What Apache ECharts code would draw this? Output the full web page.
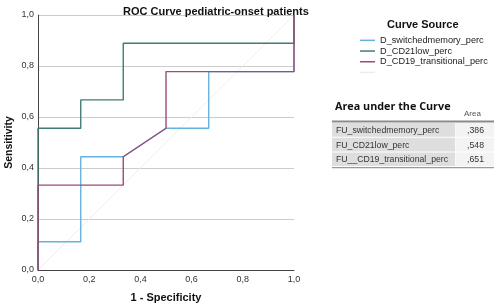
<!DOCTYPE html>
<html>
<head>
<meta charset="utf-8">
<script src="https://cdn.jsdelivr.net/npm/echarts@6/dist/echarts.min.js"></script>
<style>
  html, body { margin: 0; padding: 0; background: #fff; }
  #roc { width: 500px; height: 307px; }
</style>
</head>
<body>
<div id="roc"></div>
<script>
// curve points [1 - specificity, sensitivity]
var switchedMemory = [[0, 0], [0, 0.111], [0.167, 0.111], [0.167, 0.444], [0.333, 0.444], [0.5, 0.556], [0.667, 0.556], [0.667, 0.778], [1, 0.778], [1, 1]];
var cd21Low = [[0, 0], [0, 0.556], [0.167, 0.556], [0.167, 0.667], [0.333, 0.667], [0.333, 0.889], [1, 0.889], [1, 1]];
var cd19Transitional = [[0, 0], [0, 0.333], [0.333, 0.333], [0.333, 0.444], [0.5, 0.556], [0.5, 0.778], [1, 0.778], [1, 1]];
var refLine = [[0, 0], [1, 1]];

var curveNames = ['D_switchedmemory_perc', 'D_CD21low_perc', 'D_CD19_transitional_perc'];
var aucNames = ['FU_switchedmemory_perc', 'FU_CD21low_perc', 'FU__CD19_transitional_perc'];
var aucValues = [',386', ',548', ',651'];

var myChart = echarts.init(document.getElementById('roc'));

// table "Area under the Curve"
var tableGraphic = [
  { type: 'text', left: 335, top: 101, style: { text: 'Area under the Curve', font: 'bold 10.8px "Open Sans", sans-serif', fill: '#111' } },
  { type: 'text', left: 464, top: 110, style: { text: 'Area', font: '8px "Liberation Sans", Arial', fill: '#555' } },
  { type: 'rect', shape: { x: 332, y: 120.5, width: 162, height: 2 }, style: { fill: '#8a8a8a' } }
];
aucNames.forEach(function (n, i) {
  var y = 122.5 + i * 14.7;
  tableGraphic.push({ type: 'rect', shape: { x: 332, y: y + 0.5, width: 123, height: 13.7 }, style: { fill: '#dedede' } });
  tableGraphic.push({ type: 'rect', shape: { x: 455.5, y: y + 0.5, width: 38.5, height: 13.7 }, style: { fill: '#f3f3f3' } });
  tableGraphic.push({ type: 'text', left: 336, top: y + 3.5, style: { text: n, font: '8.7px "Liberation Sans", Arial', fill: '#333' } });
  tableGraphic.push({ type: 'text', right: 16, top: y + 3.5, style: { text: aucValues[i], font: '8.7px "Liberation Sans", Arial', fill: '#333' } });
});
tableGraphic.push({ type: 'rect', shape: { x: 332, y: 167, width: 162, height: 1.2 }, style: { fill: '#9a9a9a' } });

var option = {
  animation: false,
  textStyle: { fontFamily: '"Liberation Sans", Arial, sans-serif' },
  title: {
    text: 'ROC Curve pediatric-onset patients',
    left: 118, top: 1,
    textStyle: { fontSize: 11, fontWeight: 'bold', color: '#111' }
  },
  color: ['#f1ece0', '#62b3dd', '#3f7d74', '#9a4a7c'],
  legend: {
    orient: 'vertical',
    left: 355, top: 30,
    itemGap: 0,
    itemWidth: 15, itemHeight: 1.5,
    icon: 'rect',
    data: curveNames.concat([' ']),
    textStyle: { fontSize: 9.2, color: '#222', lineHeight: 10.7 }
  },
  graphic: [
    { type: 'text', left: 387, top: 19, style: { text: 'Curve Source', font: 'bold 11px "Liberation Sans", Arial', fill: '#111' } }
  ].concat(tableGraphic),
  grid: { left: 38, right: 206, top: 15, bottom: 37, outerBoundsMode: 'none' },
  xAxis: {
    type: 'value', min: 0, max: 1, interval: 0.2,
    name: '1 - Specificity', nameLocation: 'middle', nameGap: 22,
    nameTextStyle: { fontSize: 11, fontWeight: 'bold', color: '#111' },
    axisLine: { lineStyle: { color: '#444', width: 1 } },
    axisTick: { show: false },
    splitLine: { show: false },
    axisLabel: { fontSize: 9, color: '#333', margin: 5, formatter: function (v) { return v.toFixed(1).replace('.', ','); } }
  },
  yAxis: {
    type: 'value', min: 0, max: 1, interval: 0.2,
    name: 'Sensitivity', nameLocation: 'middle', nameGap: 23, nameMoveOverlap: false,
    nameTextStyle: { fontSize: 10.5, fontWeight: 'bold', color: '#111' },
    axisLine: { show: true, lineStyle: { color: '#444', width: 1 } },
    axisTick: { show: false },
    splitLine: { lineStyle: { color: '#cccccc', width: 1 } },
    axisLabel: { fontSize: 9, color: '#333', margin: 4, formatter: function (v) { return v.toFixed(1).replace('.', ','); } }
  },
  series: [
    { name: ' ', type: 'line', data: refLine, symbol: 'none', lineStyle: { width: 1 }, z: 1 },
    { name: curveNames[0], type: 'line', data: switchedMemory, symbol: 'none', lineStyle: { width: 1.4 }, z: 2 },
    { name: curveNames[1], type: 'line', data: cd21Low, symbol: 'none', lineStyle: { width: 1.4 }, z: 3 },
    { name: curveNames[2], type: 'line', data: cd19Transitional, symbol: 'none', lineStyle: { width: 1.4 }, z: 3 }
  ]
};

myChart.setOption(option);
</script>
</body>
</html>
